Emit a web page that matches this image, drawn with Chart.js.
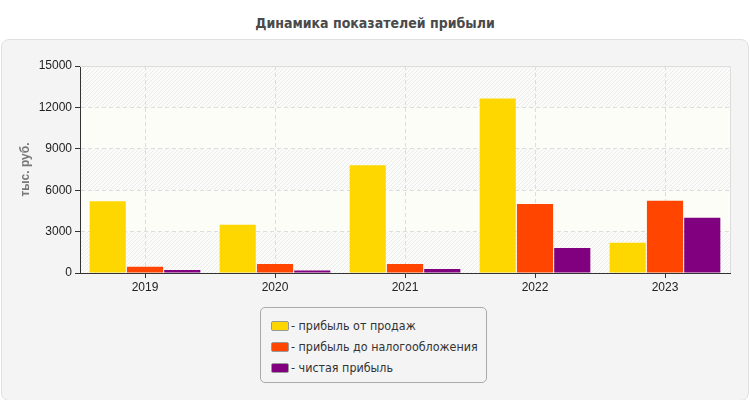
<!DOCTYPE html>
<html>
<head>
<meta charset="utf-8">
<script src="https://cdn.jsdelivr.net/npm/chart.js@4.4.0/dist/chart.umd.min.js"></script>
<style>
    body { margin: 0; background: #fff; font-family: "Liberation Sans", Arial, sans-serif; }
    #wrap { position: relative; width: 750px; height: 400px; overflow: hidden; }
    #title { position: absolute; left: 0; top: 15px; width: 750px; text-align: center; font-size: 14px; font-weight: bold; color: #4a4a4a; font-family: "DejaVu Sans Condensed", "DejaVu Sans", sans-serif; }
    #panel { position: absolute; left: 1px; top: 39px; width: 746px; height: 360px; background: #f4f4f4; border: 1px solid #e0e0e0; border-radius: 8px; }
    #chartBox { position: absolute; left: 0; top: 40px; width: 750px; height: 260px; }
    #legend { position: absolute; left: 260px; top: 307px; width: 225px; height: 74px; border: 1px solid #aaa; border-radius: 5px; background: #f4f4f4; }
    .item { position: absolute; left: 10px; font-size: 12.4px; color: #333; white-space: nowrap; line-height: 14px; font-family: "DejaVu Sans Condensed", "DejaVu Sans", sans-serif; }
    .sw { display: inline-block; width: 16px; height: 8px; border: 1px solid #999; border-radius: 2px; vertical-align: -1px; margin-right: 2px; }
</style>
</head>
<body>
<div id="wrap">
    <div id="title">Динамика показателей прибыли</div>
    <div id="panel"></div>
    <div id="chartBox"><canvas id="chart" width="750" height="260"></canvas></div>
    <div id="legend"></div>
</div>
<script>
const years = ['2019', '2020', '2021', '2022', '2023']
const salesProfit = [5200, 3500, 7800, 12650, 2200]
const pretaxProfit = [450, 650, 650, 5000, 5230]
const netProfit = [220, 180, 290, 1820, 4000]
const seriesNames = ['прибыль от продаж', 'прибыль до налогообложения', 'чистая прибыль']
const seriesColors = ['#ffd700', '#ff4500', '#800080']
const yMax = 15000
const yStep = 3000

// hatch pattern for the plot background
const makeHatch = () => {
    const c = document.createElement('canvas')
    c.width = 4
    c.height = 4
    const g = c.getContext('2d')
    g.fillStyle = '#fbfbf9'
    g.fillRect(0, 0, 4, 4)
    g.strokeStyle = '#ececec'
    g.lineWidth = 1
    g.beginPath()
    g.moveTo(0, 4)
    g.lineTo(4, 0)
    g.stroke()
    return g.createPattern(c, 'repeat')
}

const plotBackground = {
    id: 'plotBackground',
    beforeDraw(chart) {
        const { ctx, chartArea: a, scales: { y } } = chart
        const hatch = makeHatch()
        ctx.save()
        ctx.fillStyle = '#fdfdf8'
        ctx.fillRect(a.left, a.top, a.right - a.left, a.bottom - a.top)
        for (let v = 0; v < yMax; v += yStep * 2) {
            const top = y.getPixelForValue(v + yStep)
            const bottom = y.getPixelForValue(v)
            ctx.fillStyle = hatch
            ctx.fillRect(a.left, top, a.right - a.left, bottom - top)
        }
        ctx.restore()
    },
    afterDatasetsDraw(chart) {
        const { ctx, chartArea: a } = chart
        ctx.save()
        ctx.strokeStyle = '#dddddd'
        ctx.lineWidth = 1
        ctx.beginPath()
        ctx.moveTo(a.left, a.top + 0.5)
        ctx.lineTo(a.right + 0.5, a.top + 0.5)
        ctx.lineTo(a.right + 0.5, a.bottom)
        ctx.stroke()
        ctx.restore()
    }
}

const data = [salesProfit, pretaxProfit, netProfit]

new Chart(document.getElementById('chart'), {
    type: 'bar',
    data: {
        labels: years,
        datasets: data.map((d, i) => ({
            label: seriesNames[i],
            data: d,
            backgroundColor: seriesColors[i],
            borderWidth: 0,
            barPercentage: 0.97,
            categoryPercentage: 0.86
        }))
    },
    options: {
        responsive: false,
        animation: false,
        devicePixelRatio: 1,
        layout: { padding: { top: 26, right: 20, left: 0, bottom: 0 } },
        plugins: {
            legend: { display: false },
            tooltip: { enabled: false }
        },
        scales: {
            x: {
                grid: { color: '#dddddd', tickColor: '#333', tickLength: 5, offset: false },
                border: { color: '#333', width: 1, dash: [4, 3] },
                ticks: { color: '#222', font: { size: 12, family: 'Liberation Sans' }, padding: 2 },
                afterFit(s) { s.height = 27 }
            },
            y: {
                min: 0,
                max: yMax,
                ticks: {
                    stepSize: yStep,
                    color: '#222',
                    font: { size: 12, family: 'Liberation Sans' },
                    padding: 3,
                    callback: v => String(v)
                },
                grid: { color: '#dddddd', tickColor: '#333', tickLength: 5 },
                border: { color: '#333', width: 1, dash: [4, 3] },
                title: { display: true, text: 'тыс. руб.', color: '#777', font: { size: 12, weight: 'bold', family: 'Liberation Sans' }, padding: { top: 18, bottom: 0 } },
                afterFit(s) { s.width = 80 }
            }
        }
    },
    plugins: [plotBackground]
})

// legend
const legend = document.getElementById('legend')
seriesNames.forEach((name, i) => {
    const item = document.createElement('div')
    item.className = 'item'
    item.style.top = (11 + i * 21) + 'px'
    const sw = document.createElement('span')
    sw.className = 'sw'
    sw.style.background = seriesColors[i]
    item.appendChild(sw)
    item.appendChild(document.createTextNode('- ' + name))
    legend.appendChild(item)
})
</script>
</body>
</html>
